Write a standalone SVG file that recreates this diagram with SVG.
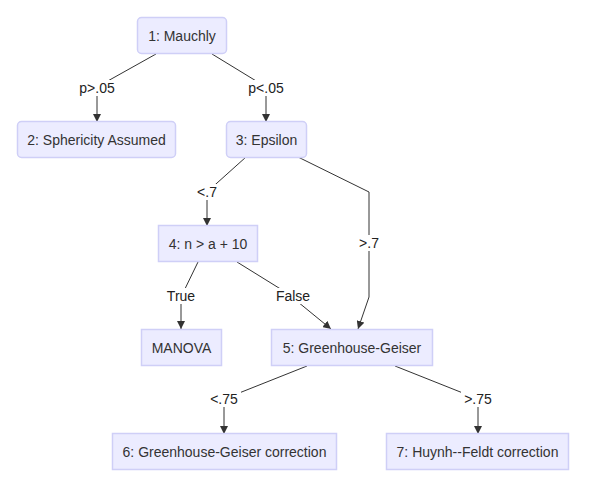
<svg xmlns="http://www.w3.org/2000/svg" width="605" height="497" viewBox="0 0 605 497">
<style>
.node rect{fill:#ECECFF;stroke:#CFCFF7;stroke-width:1.5}
.node text{font-family:"Liberation Sans",Arial,sans-serif;font-size:14px;fill:#333;text-anchor:middle;dominant-baseline:central}
.edge{fill:none;stroke:#333;stroke-width:1}
.lbl rect{fill:#fff}
.lbl text{font-family:"Liberation Sans",Arial,sans-serif;font-size:14px;fill:#222;text-anchor:middle;dominant-baseline:central}
</style>
<defs>
<marker id="arr" viewBox="0 0 10 10" refX="10" refY="5" markerWidth="8" markerHeight="8" markerUnits="userSpaceOnUse" orient="auto">
<path d="M0,0 L10,5 L0,10 z" fill="#333"/>
</marker>
</defs>
<rect width="605" height="497" fill="#fff"/>
<g id="connectors">
<polyline class="edge" points="156,54 97,87 97,122" marker-end="url(#arr)"/>
<polyline class="edge" points="212,54 266,87 266,122" marker-end="url(#arr)"/>
<polyline class="edge" points="246,157 207,192 207,226" marker-end="url(#arr)"/>
<polyline class="edge" points="298,157 369,192 369,297 358,329" marker-end="url(#arr)"/>
<polyline class="edge" points="198,262 181,297 181,329" marker-end="url(#arr)"/>
<polyline class="edge" points="237,262 287,293 331,329" marker-end="url(#arr)"/>
<polyline class="edge" points="307,366 224,399 224,434" marker-end="url(#arr)"/>
<polyline class="edge" points="395,366 478,399 478,434" marker-end="url(#arr)"/>
<g class="lbl"><rect x="78" y="80" width="38" height="16"/><text x="97" y="88">p&gt;.05</text></g>
<g class="lbl"><rect x="247" y="80" width="38" height="16"/><text x="266" y="88">p&lt;.05</text></g>
<g class="lbl"><rect x="195" y="184" width="24" height="16"/><text x="207" y="192">&lt;.7</text></g>
<g class="lbl"><rect x="357" y="235" width="24" height="16"/><text x="369" y="243">&gt;.7</text></g>
<g class="lbl"><rect x="164" y="288" width="34" height="16"/><text x="181" y="296">True</text></g>
<g class="lbl"><rect x="273" y="288" width="40" height="16"/><text x="293" y="296">False</text></g>
<g class="lbl"><rect x="207" y="391" width="34" height="16"/><text x="224" y="399">&lt;.75</text></g>
<g class="lbl"><rect x="461" y="391" width="34" height="16"/><text x="478" y="399">&gt;.75</text></g>
</g>
<g id="n1" class="node"><rect x="137.5" y="17.5" width="89" height="36" rx="4"/><text x="182" y="36">1: Mauchly</text></g>
<g id="n2" class="node"><rect x="17.5" y="121.5" width="158" height="36" rx="4"/><text x="96.5" y="140">2: Sphericity Assumed</text></g>
<g id="n3" class="node"><rect x="226.5" y="121.5" width="80" height="36" rx="4"/><text x="266.5" y="140">3: Epsilon</text></g>
<g id="n4" class="node"><rect x="158.5" y="225.5" width="99" height="36"/><text x="208" y="244">4: n &gt; a + 10</text></g>
<g id="manova" class="node"><rect x="141.5" y="329.5" width="80" height="36"/><text x="181.5" y="348">MANOVA</text></g>
<g id="n5" class="node"><rect x="271.5" y="329.5" width="161" height="36"/><text x="352" y="348">5: Greenhouse-Geiser</text></g>
<g id="n6" class="node"><rect x="112.5" y="433.5" width="224" height="36"/><text x="224.5" y="452">6: Greenhouse-Geiser correction</text></g>
<g id="n7" class="node"><rect x="386.5" y="433.5" width="182" height="36"/><text x="477.5" y="452">7: Huynh--Feldt correction</text></g>
</svg>
